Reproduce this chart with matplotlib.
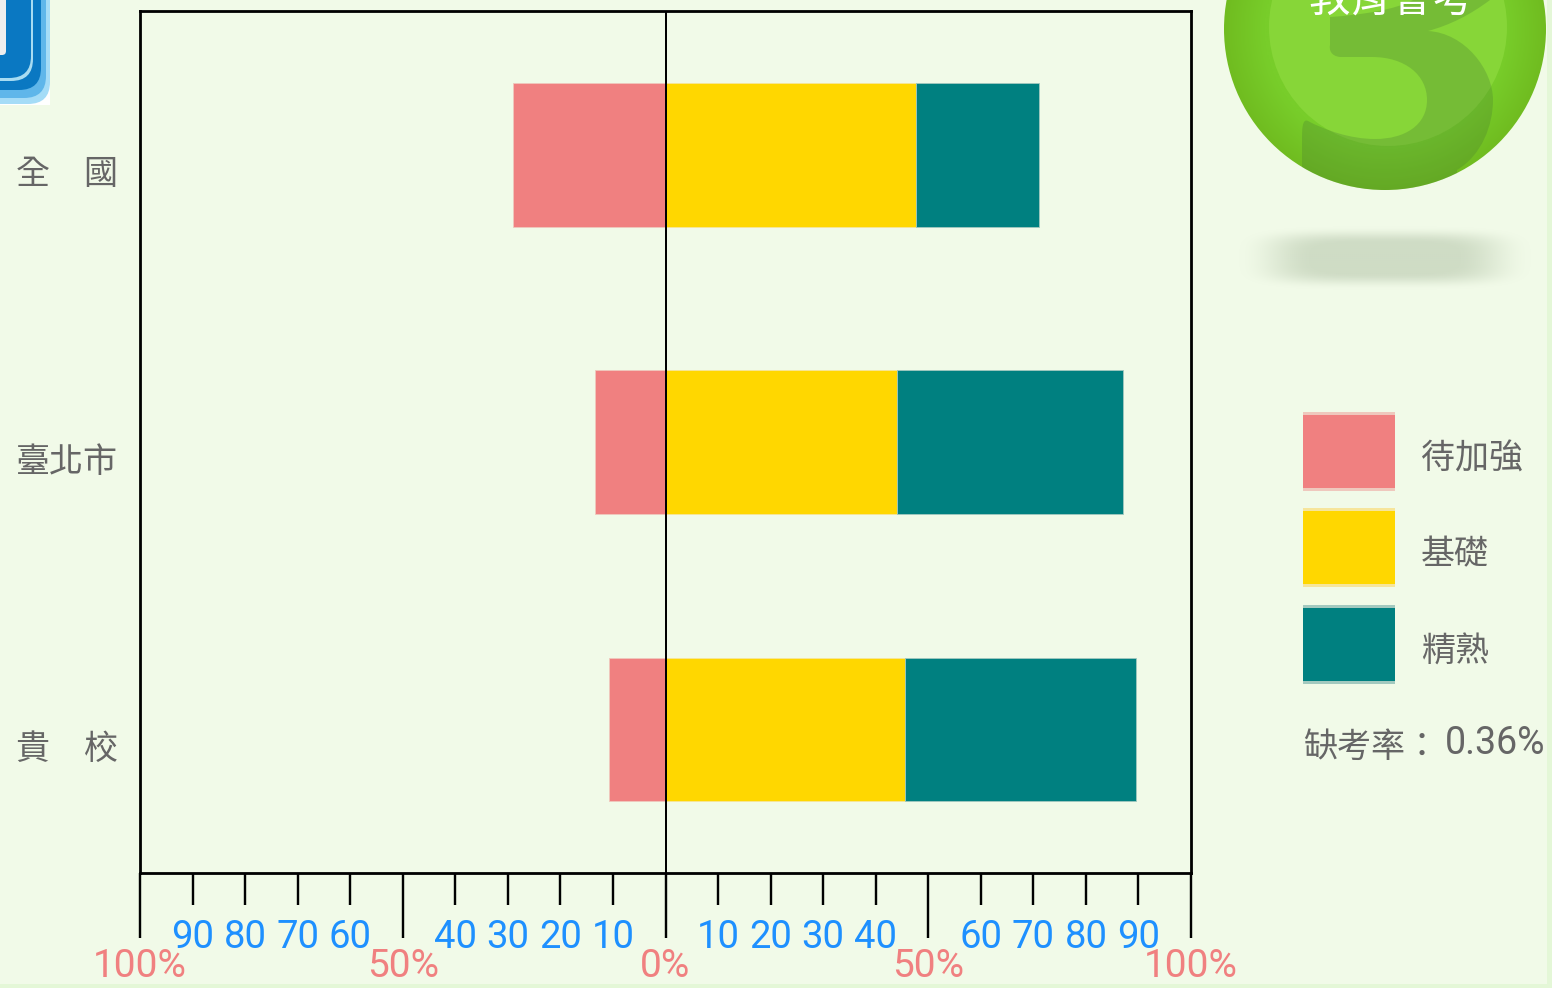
import numpy as np
import matplotlib
matplotlib.use('Agg')
import matplotlib.pyplot as plt
from matplotlib.patches import Circle, FancyBboxPatch, PathPatch, Rectangle
from matplotlib.path import Path

plt.rcParams['font.family'] = ['Noto Sans CJK TC', 'DejaVu Sans']

# data
schools = ['全　國', '臺北市', '貴　校']
weak = [29.1, 13.5, 10.7]
basic = [47.6, 44.0, 45.5]
skilled = [23.4, 43.0, 44.0]
level_names = ['待加強', '基礎', '精熟']
level_colors = ['#f08080', '#ffd700', '#008080']
level_edges = ['#efc8bd', '#f6e59b', '#a3c9bf']
major_ticks = [-100, -50, 0, 50, 100]
major_labels = ['100%', '50%', '0%', '50%', '100%']
minor_ticks = [-90, -80, -70, -60, -40, -30, -20, -10, 10, 20, 30, 40, 60, 70, 80, 90]
minor_labels = ['90', '80', '70', '60', '40', '30', '20', '10',
                '10', '20', '30', '40', '60', '70', '80', '90']

W, H = 1552, 988
BG = '#f1fae8'
PX = 72 / 100  # one pixel in points
TEXT_GREY = '#666666'

fig = plt.figure(figsize=(W / 100, H / 100), dpi=100, facecolor=BG)

# ─────────────────────────────────────────
# page decoration, drawn in pixel coordinates
# ─────────────────────────────────────────
deco = fig.add_axes([0, 0, 1, 1], zorder=0)
deco.set_xlim(0, W)
deco.set_ylim(H, 0)
deco.axis('off')

deco.add_patch(Rectangle((1547, 0), 5, H, color='#e4f7d7', lw=0))
deco.add_patch(Rectangle((0, 984), W, 4, color='#e4f7d7', lw=0))

# logo corner
deco.add_patch(Rectangle((0, 60), 50, 45, color='white', lw=0))
for right, bottom, col in [(50, 104, '#a5dcf7'), (46, 98, '#5fb6ea'), (41, 90, '#0a78c2'),
                           (33, 81, '#a8dcf2'), (31, 78, '#0a78c2')]:
    deco.add_patch(FancyBboxPatch((-40, -40), right + 40, bottom + 40,
                                  boxstyle='round,pad=0,rounding_size=22', fc=col, ec='none'))
deco.add_patch(FancyBboxPatch((-10, -10), 16, 65, boxstyle='round,pad=0,rounding_size=4',
                              fc='#eeeeee', ec='none'))

# shadow under the ball
xx, yy = np.meshgrid(np.linspace(1225, 1545, 160), np.linspace(220, 296, 60))
r = ((np.abs(xx - 1385) / 115) ** 4 + (np.abs(yy - 258) / 25) ** 4) ** 0.25
ramp = np.clip((1.3 - r) / 0.7, 0, 1)
shadow = np.zeros(xx.shape + (4,))
shadow[..., :3] = np.array([207, 220, 197]) / 255
shadow[..., 3] = ramp * ramp * (3 - 2 * ramp)
deco.imshow(shadow, extent=(1225, 1545, 296, 220), aspect='auto', zorder=1, interpolation='bilinear')

# green ball
cx, cy, rad = 1385, 29, 161
ball = Circle((cx, cy), rad, transform=deco.transData, fc='none', ec='none')
deco.add_patch(ball)
xx, yy = np.meshgrid(np.linspace(cx - rad, cx + rad, 300), np.linspace(0, cy + rad, 200))
dist = np.sqrt((xx - cx) ** 2 + (yy - cy) ** 2) / rad
grad = np.zeros(xx.shape + (3,))
for i, (inner, outer) in enumerate(zip((120, 205, 42), (112, 188, 32))):
    grad[..., i] = (inner + (outer - inner) * np.clip((dist - 0.75) / 0.25, 0, 1)) / 255
im = deco.imshow(grad, extent=(cx - rad, cx + rad, cy + rad, 0), aspect='auto', zorder=2)
im.set_clip_path(ball)
deco.add_patch(Circle((1388, 27), 119, fc='#87d638', ec='none', zorder=3))
s_verts = [(1330, 17), (1330, 45),
           (1329, 50), (1331, 56), (1340, 57),
           (1372, 57),
           (1405, 57), (1427, 75), (1427, 100),
           (1427, 125), (1405, 139), (1375, 139),
           (1350, 139), (1325, 130), (1308, 121),
           (1302, 118), (1302, 130), (1302, 140),
           (1302, 200), (1457, 200), (1457, 170),
           (1482, 155), (1493, 125), (1493, 100),
           (1493, 70), (1465, 33), (1428, 31),
           (1450, 25), (1470, 15), (1490, 0),
           (1413, 0),
           (1395, 10), (1360, 15), (1330, 17),
           (1330, 17)]
s_codes = [Path.MOVETO, Path.LINETO,
           Path.CURVE4, Path.CURVE4, Path.CURVE4,
           Path.LINETO,
           Path.CURVE4, Path.CURVE4, Path.CURVE4,
           Path.CURVE4, Path.CURVE4, Path.CURVE4,
           Path.CURVE4, Path.CURVE4, Path.CURVE4,
           Path.CURVE4, Path.CURVE4, Path.CURVE4,
           Path.LINETO, Path.LINETO, Path.LINETO,
           Path.CURVE4, Path.CURVE4, Path.CURVE4,
           Path.CURVE4, Path.CURVE4, Path.CURVE4,
           Path.CURVE4, Path.CURVE4, Path.CURVE4,
           Path.LINETO,
           Path.CURVE4, Path.CURVE4, Path.CURVE4,
           Path.CLOSEPOLY]
s_shape = PathPatch(Path(s_verts, s_codes), fc='#467832', ec='none', alpha=0.27, zorder=4)
deco.add_patch(s_shape)
s_shape.set_clip_path(Circle((cx, cy), rad, transform=deco.transData))
deco.text(1392, 1, '教育會考', color='white', fontsize=30, ha='center', va='center', zorder=5)

# ─────────────────────────────────────────
# chart
# ─────────────────────────────────────────
ax = fig.add_axes([140 / W, 1 - 873 / H, (1191 - 140) / W, (873 - 11) / H], facecolor='none', zorder=2)
y = np.arange(len(schools))
weak_arr, basic_arr, skilled_arr = np.array(weak), np.array(basic), np.array(skilled)
ax.barh(y, -weak_arr, height=0.5, color=level_colors[0], edgecolor=level_edges[0], linewidth=0.6)
ax.barh(y, basic_arr, height=0.5, color=level_colors[1], edgecolor=level_edges[1], linewidth=0.6)
ax.barh(y, skilled_arr, left=basic_arr, height=0.5, color=level_colors[2], edgecolor=level_edges[2], linewidth=0.6)
ax.axvline(0, color='black', lw=2 * PX, zorder=5)
ax.set_xlim(-100, 100)
ax.set_ylim(len(schools) - 0.5, -0.5)
ax.set_yticks([])
for sp in ax.spines.values():
    sp.set_linewidth(2.8 * PX)

ax.set_xticks(major_ticks, major_labels, fontsize=28, color='#f08080', family='Roboto')
ax.set_xticks(minor_ticks, minor_labels, minor=True, fontsize=27.5, color='#1e90ff', family='Roboto')
ax.tick_params(axis='x', which='major', length=65 * PX, width=2.4 * PX, pad=10 * PX)
ax.tick_params(axis='x', which='minor', length=32 * PX, width=2.4 * PX, pad=14 * PX)

for i, name in enumerate(schools):
    ax.annotate(name, xy=(0, i), xycoords=ax.get_yaxis_transform(),
                xytext=(-22 * PX, -20 * PX), textcoords='offset points',
                ha='right', va='center', fontsize=24.5, color=TEXT_GREY)

# legend
leg_tops = [415, 511, 608]
for top, name, col, edge in zip(leg_tops, level_names, level_colors, level_edges):
    deco.add_patch(Rectangle((1303, top - 3), 92, 79, fc=edge, ec='none', zorder=3))
    deco.add_patch(Rectangle((1303, top), 92, 73, fc=col, ec='none', zorder=4))
    deco.text(1421, top + 44, name, fontsize=24.5, color=TEXT_GREY, ha='left', va='center', zorder=4)
deco.text(1303, 747, '缺考率：', fontsize=24.5, color=TEXT_GREY, ha='left', va='center', zorder=4)
deco.text(1445, 743, '0.36%', fontsize=27, color=TEXT_GREY, ha='left', va='center',
          family='Roboto', zorder=4)

fig.savefig('out.png', dpi=100, facecolor=BG)
